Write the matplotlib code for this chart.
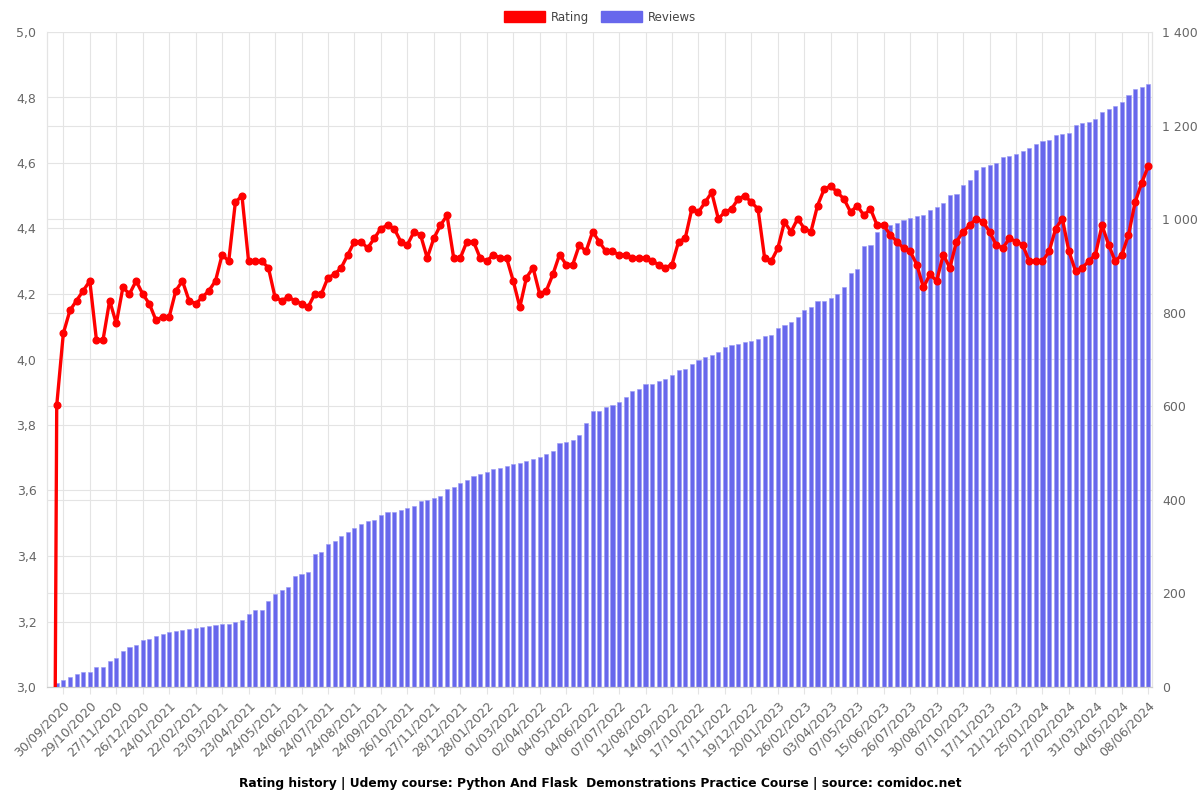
import numpy as np
from matplotlib import pyplot as plt
from matplotlib.patches import Patch

# valores (um ponto por semana, o primeiro e o ponto "zero")
rating = [0.0, 3.86, 4.08, 4.15, 4.18, 4.21, 4.24, 4.06, 4.06, 4.18, 4.11,
          4.22, 4.20, 4.24, 4.20, 4.17, 4.12, 4.13, 4.13, 4.21, 4.24,
          4.18, 4.17, 4.19, 4.21, 4.24, 4.32, 4.30, 4.48, 4.50, 4.30,
          4.30, 4.30, 4.28, 4.19, 4.18, 4.19, 4.18, 4.17, 4.16, 4.20,
          4.20, 4.25, 4.26, 4.28, 4.32, 4.36, 4.36, 4.34, 4.37, 4.40,
          4.41, 4.40, 4.36, 4.35, 4.39, 4.38, 4.31, 4.37, 4.41, 4.44,
          4.31, 4.31, 4.36, 4.36, 4.31, 4.30, 4.32, 4.31, 4.31, 4.24,
          4.16, 4.25, 4.28, 4.20, 4.21, 4.26, 4.32, 4.29, 4.29, 4.35,
          4.33, 4.39, 4.36, 4.33, 4.33, 4.32, 4.32, 4.31, 4.31, 4.31,
          4.30, 4.29, 4.28, 4.29, 4.36, 4.37, 4.46, 4.45, 4.48, 4.51,
          4.43, 4.45, 4.46, 4.49, 4.50, 4.48, 4.46, 4.31, 4.30, 4.34,
          4.42, 4.39, 4.43, 4.40, 4.39, 4.47, 4.52, 4.53, 4.51, 4.49,
          4.45, 4.47, 4.44, 4.46, 4.41, 4.41, 4.38, 4.36, 4.34, 4.33,
          4.29, 4.22, 4.26, 4.24, 4.32, 4.28, 4.36, 4.39, 4.41, 4.43,
          4.42, 4.39, 4.35, 4.34, 4.37, 4.36, 4.35, 4.30, 4.30, 4.30,
          4.33, 4.40, 4.43, 4.33, 4.27, 4.28, 4.30, 4.32, 4.41, 4.35,
          4.30, 4.32, 4.38, 4.48, 4.54, 4.59]

reviews = [0, 9, 16, 21, 28, 31, 31, 42, 42, 56, 61,
           78, 85, 90, 101, 103, 110, 113, 118, 120, 122,
           123, 126, 129, 130, 133, 134, 135, 138, 143, 157,
           165, 165, 184, 199, 207, 214, 237, 242, 246, 284,
           288, 306, 311, 323, 332, 339, 348, 354, 358, 368,
           375, 375, 378, 383, 387, 398, 400, 405, 409, 424,
           427, 436, 442, 451, 455, 460, 465, 469, 472, 477,
           479, 484, 487, 492, 499, 504, 522, 523, 527, 539,
           565, 589, 589, 598, 602, 609, 620, 632, 638, 648,
           648, 655, 658, 666, 677, 680, 691, 698, 705, 710,
           715, 727, 730, 733, 737, 740, 744, 750, 752, 767,
           774, 780, 790, 806, 812, 824, 826, 831, 841, 855,
           885, 894, 943, 944, 973, 979, 987, 992, 998, 1002,
           1006, 1009, 1019, 1025, 1035, 1052, 1054, 1073, 1083, 1104,
           1111, 1115, 1121, 1133, 1135, 1140, 1145, 1153, 1161, 1166,
           1170, 1179, 1182, 1185, 1201, 1206, 1208, 1215, 1230, 1235,
           1241, 1251, 1266, 1279, 1282, 1288]

# etiquetas do eixo x (uma a cada 4 pontos, a partir do indice 2)
datas = ["30/09/2020", "29/10/2020", "27/11/2020", "26/12/2020", "24/01/2021",
         "22/02/2021", "23/03/2021", "23/04/2021", "24/05/2021", "24/06/2021",
         "24/07/2021", "24/08/2021", "24/09/2021", "26/10/2021", "27/11/2021",
         "28/12/2021", "28/01/2022", "01/03/2022", "02/04/2022", "04/05/2022",
         "04/06/2022", "07/07/2022", "12/08/2022", "14/09/2022", "17/10/2022",
         "17/11/2022", "19/12/2022", "20/01/2023", "26/02/2023", "03/04/2023",
         "07/05/2023", "15/06/2023", "26/07/2023", "30/08/2023", "07/10/2023",
         "17/11/2023", "21/12/2023", "25/01/2024", "27/02/2024", "31/03/2024",
         "04/05/2024", "08/06/2024"]

titulo = "Rating history | Udemy course: Python And Flask  Demonstrations Practice Course | source: comidoc.net"

corGrelha = "#e4e4e4"
corTexto = "#666666"
corBarra = "#6767ec"
corLinha = "#ff0000"

x = np.arange(len(rating))
posTicks = np.arange(2, len(rating), 4)

fig = plt.figure(figsize=(12, 8), dpi=100)
ax = fig.add_axes([0.039, 0.14125, 0.9207, 0.81875])
axR = ax.twinx()

# barras das reviews no eixo da direita
axR.bar(x, reviews, width=0.62, color=corBarra, edgecolor="#9a9af4", linewidth=0.4, zorder=2)
axR.set_ylim(0, 1400)
axR.set_yticks(np.arange(0, 1401, 200))
axR.set_yticklabels([("{:,}".format(v)).replace(",", " ") for v in range(0, 1401, 200)])

# grelha por baixo das barras
for v in range(0, 1401, 200):
    axR.axhline(v, color=corGrelha, linewidth=0.8, zorder=0)
for r in np.arange(3.0, 5.01, 0.2):
    axR.axhline((r - 3.0) / 2.0 * 1400, color=corGrelha, linewidth=0.8, zorder=0)
for p in posTicks:
    axR.axvline(p, color=corGrelha, linewidth=0.8, zorder=0)

# linha do rating no eixo da esquerda, por cima das barras
ax.set_zorder(axR.get_zorder() + 1)
ax.patch.set_visible(False)
ax.plot(x, rating, '-o', color=corLinha, linewidth=2.4, markersize=4.8, zorder=3)
ax.set_ylim(3.0, 5.0)
ax.set_yticks(np.arange(3.0, 5.01, 0.2))
ax.set_yticklabels([("%.1f" % r).replace(".", ",") for r in np.arange(3.0, 5.01, 0.2)])

ax.set_xlim(-0.5, len(rating) - 0.5)
ax.set_xticks(posTicks)
ax.set_xticklabels(datas, rotation=45, ha='right', rotation_mode='anchor')

for a in [ax, axR]:
    a.tick_params(colors=corTexto, labelsize=9, length=5, width=0.8)
    a.tick_params(axis='x', colors=corGrelha, labelcolor=corTexto)
    a.tick_params(axis='y', colors="white", labelcolor=corTexto, length=4)
    a.spines['top'].set_visible(False)
    a.spines['left'].set_color(corGrelha)
    a.spines['right'].set_color(corGrelha)
    a.spines['bottom'].set_color("#cccccc")

# legenda em cima
handles = [Patch(facecolor=corLinha, edgecolor=corLinha, label='Rating'),
           Patch(facecolor=corBarra, edgecolor=corBarra, label='Reviews')]
fig.legend(handles=handles, loc='upper center', bbox_to_anchor=(0.5, 1.0), ncol=2,
           frameon=False, fontsize=8.5, handlelength=3.5, handleheight=1.1,
           columnspacing=1.0, handletextpad=0.5, labelcolor="#444444")

fig.text(0.5, 0.021, titulo, ha='center', va='center', fontsize=8.8, fontweight='bold')

plt.savefig('out.png')
